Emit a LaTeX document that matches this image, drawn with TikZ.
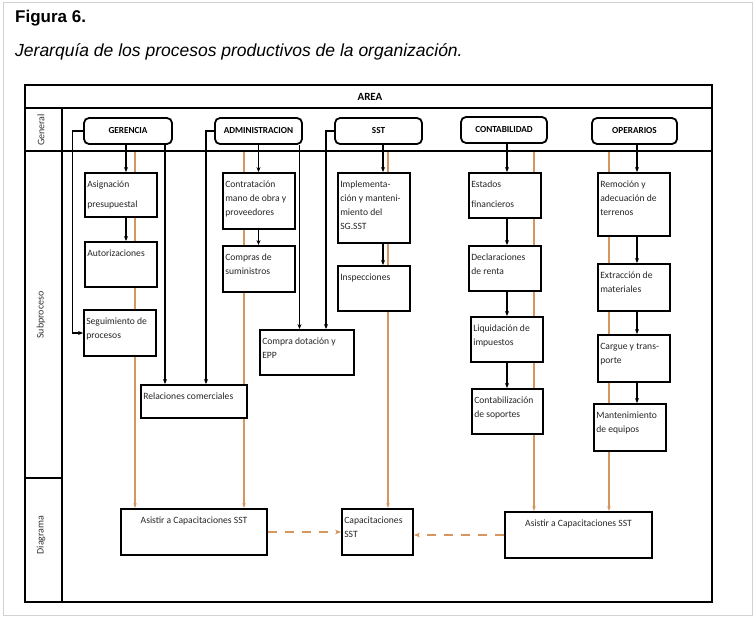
\documentclass[tikz,border=0pt]{standalone}
\usepackage{fontspec}
\setmainfont{Carlito}
\newfontfamily\arialf{Liberation Sans}
\usetikzlibrary{arrows.meta,backgrounds}
\definecolor{orng}{RGB}{214,150,95}
\newcommand\mkhdr[6]{\node[hdr, minimum width={(#4-#2)*1pt}, minimum height={(#5-#3)*1pt}] (#1) at ({(#2+#4)/2},{(#3+#5)/2}) {#6};}
\newcommand\mkbox[6]{\node[subbox, minimum width={(#4-#2)*1pt}, minimum height={(#5-#3)*1pt}, label={[boxtxt]north west:{#6}}] (#1) at ({(#2+#4)/2},{(#3+#5)/2}) {};}
\newcommand\mkboxc[6]{\node[subbox, minimum width={(#4-#2)*1pt}, minimum height={(#5-#3)*1pt}, label={[boxtxt,anchor=north,align=center]north:{#6}}] (#1) at ({(#2+#4)/2},{(#3+#5)/2}) {};}
\begin{document}
\begin{tikzpicture}[x=1pt,y=-1pt,
  frame/.style={line width=1.9pt},
  hdr/.style={draw, line width=1.8pt, rounded corners=5pt, fill=white, inner sep=0pt, font=\fontsize{9.2}{11}\selectfont\bfseries},
  subbox/.style={draw, line width=1.8pt, fill=white, inner sep=0pt},
  boxtxt/.style={anchor=north west, align=left, inner xsep=3pt, inner ysep=8.5pt, text=black!85, font=\fontsize{9.6}{14}\selectfont},
  blk/.style={line width=1.2pt, -{Stealth[length=5pt,width=4pt]}},
  orl/.style={draw=orng, line width=1.1pt, -{Stealth[length=5pt,width=3.5pt]}},
  dsh/.style={draw=orng, line width=1.6pt, dash pattern=on 9pt off 8pt, -{Stealth[length=6pt,width=4.5pt]}},
  lane/.style={rotate=90, font=\fontsize{10}{12}\selectfont, text=black!80},
]
\useasboundingbox (0,0) rectangle (756,618);
\draw[gray!35, line width=1pt] (3,3) rectangle (752,615);

% title
\node[anchor=base west, inner sep=0pt, font=\arialf\bfseries\fontsize{17}{19}\selectfont] (tit) at (15,23) {Figura 6.};
\node[anchor=base west, inner sep=0pt, font=\arialf\itshape\fontsize{17.5}{19}\selectfont] (subt) at (15,57) {Jerarquía de los procesos productivos de la organización.};

% frame
\draw[frame] (25,85) rectangle (712,602);
\draw[frame] (25,108) -- (712,108);
\draw[frame] (25,151) -- (712,151);
\draw[frame] (62,108) -- (62,602);
\draw[frame] (25,478) -- (62,478);
\node[font=\fontsize{11}{13}\selectfont\bfseries] (area) at (370,97) {AREA};
\node[lane] (lgen) at (41,130) {General};
\node[lane] (lsub) at (41,315) {Subproceso};
\node[lane] (ldia) at (41,535) {Diagrama};

% headers
\mkhdr{ger}{84}{118}{172}{144}{GERENCIA}
\mkhdr{adm}{215}{118}{302}{144}{ADMINISTRACION}
\mkhdr{sst}{335}{118}{422}{144}{SST}
\mkhdr{con}{461}{117}{547}{143}{CONTABILIDAD}
\mkhdr{ope}{592}{118}{677}{144}{OPERARIOS}

% subprocess boxes
\mkbox{asig}{85}{173}{157}{217}{Asignación\\[6pt]presupuestal}
\mkbox{aut}{85}{242}{157}{287}{Autorizaciones}
\mkbox{seg}{84}{310}{156}{356}{Seguimiento de\\procesos}
\mkbox{contr}{223}{173}{295}{229}{Contratación\\mano de obra y\\proveedores}
\mkbox{comp}{223}{246}{295}{292}{Compras de\\suministros}
\mkbox{rel}{141}{385}{247}{418}{Relaciones comerciales}
\mkbox{impl}{338}{173}{410}{243}{Implementa-\\ción y manteni-\\miento del\\SG.SST}
\mkbox{insp}{338}{266}{410}{311}{Inspecciones}
\mkbox{cdot}{260}{330}{354}{375}{Compra dotación y\\EPP}
\mkbox{est}{469}{173}{541}{218}{Estados\\[6pt]financieros}
\mkbox{decl}{469}{246}{541}{291}{Declaraciones\\de renta}
\mkbox{liq}{471}{317}{543}{362}{Liquidación de\\impuestos}
\mkbox{ctb}{472}{389}{543}{434}{Contabilización\\de soportes}
\mkbox{rem}{598}{173}{670}{236}{Remoción y\\adecuación de\\terrenos}
\mkbox{ext}{598}{264}{670}{311}{Extracción de\\materiales}
\mkbox{car}{598}{335}{670}{382}{Cargue y trans-\\porte}
\mkbox{mant}{594}{404}{666}{451}{Mantenimiento\\de equipos}
\mkboxc{asL}{121}{509}{267}{555}{Asistir a Capacitaciones SST}
\mkbox{cap}{342}{509}{413}{555}{Capacitaciones\\SST}
\mkboxc{asR}{505}{512}{652}{558}{Asistir a Capacitaciones SST}

% orange lines (behind boxes)
\coordinate (o1) at (135,151);
\coordinate (o2) at (244,151);
\coordinate (o3) at (388,151);
\coordinate (o4) at (534,151);
\coordinate (o5) at (609,151);
\begin{scope}[on background layer]
\draw[orl] (o1) -- (o1 |- asL.north);
\draw[orl] (o2) -- (o2 |- asL.north);
\draw[orl] (o3) -- (o3 |- cap.north);
\draw[orl] (o4) -- (o4 |- asR.north);
\draw[orl] (o5) -- (o5 |- asR.north);
\end{scope}

% black arrows
\coordinate (cg) at (126,0);
\coordinate (ca) at (258.5,0);
\coordinate (cs) at (383,0);
\coordinate (cc) at (507,0);
\coordinate (co) at (637,0);
\draw[blk] (cg |- ger.south) -- (cg |- asig.north);
\draw[blk] (cg |- asig.south) -- (cg |- aut.north);
\draw[blk] (ger.west) -- ++(-11,0) |- (seg.west);
\draw[blk] ([xshift=37pt]ger.south) -- ([xshift=37pt]ger.south |- rel.north);

\draw[blk] (ca |- adm.south) -- (ca |- contr.north);
\draw[blk] (ca |- contr.south) -- (ca |- comp.north);
\draw[blk] (adm.west) -| ([xshift=12pt]rel.north);
\draw[blk] ([xshift=41pt]adm.south) -- ([xshift=41pt]adm.south |- cdot.north);

\draw[blk] (cs |- sst.south) -- (cs |- impl.north);
\draw[blk] (cs |- impl.south) -- (cs |- insp.north);
\draw[blk] (sst.west) -| ([xshift=19pt]cdot.north);

\draw[blk] (cc |- con.south) -- (cc |- est.north);
\draw[blk] (cc |- est.south) -- (cc |- decl.north);
\draw[blk] (cc |- decl.south) -- (cc |- liq.north);
\draw[blk] (cc |- liq.south) -- (cc |- ctb.north);

\draw[blk] (co |- ope.south) -- (co |- rem.north);
\draw[blk] (co |- rem.south) -- (co |- ext.north);
\draw[blk] (co |- ext.south) -- (co |- car.north);
\draw[blk] (co |- car.south) -- (co |- mant.north);

% dashed
\draw[dsh] (asL.east) -- (cap.west);
\draw[dsh] (asR.west) -- (asR.west -| cap.east);
\end{tikzpicture}
\end{document}
